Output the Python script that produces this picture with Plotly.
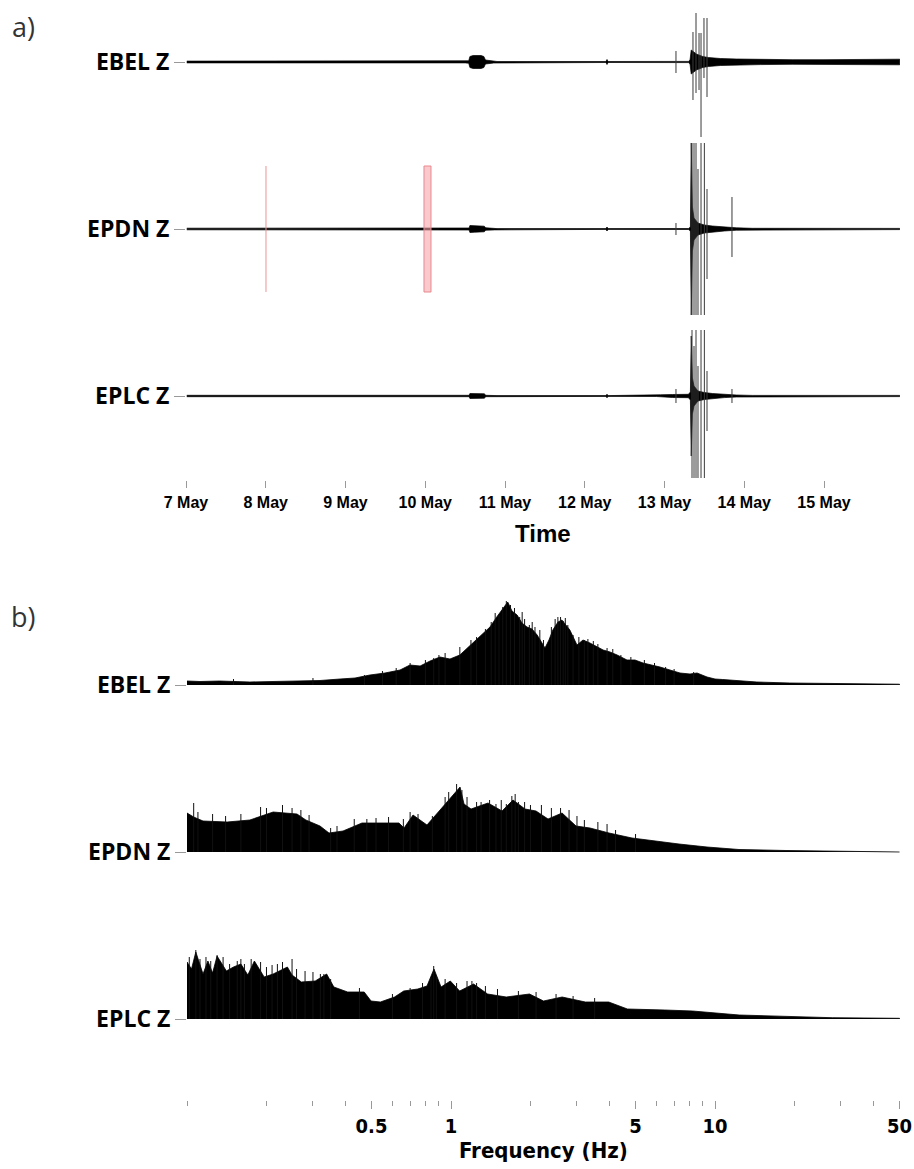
import pandas as pd
import plotly.graph_objects as go

W, H = 914, 1169

# ------------------------------------------------------------------ data
stations = ["EBEL Z", "EPDN Z", "EPLC Z"]

# Panel a: waveform envelopes, time in day-of-May 2019, half-amplitude (relative units)
ebel_env_t = [7.01, 10.50, 10.545, 10.56, 10.60, 10.70, 10.735, 10.755, 10.86, 10.90, 12.265, 12.279,
              12.293, 13.30, 13.32, 13.335, 13.40, 13.48, 13.55, 13.70, 13.90, 14.20, 14.60, 15.00,
              15.40, 15.70, 15.95]
ebel_env_a = [0.9, 0.9, 1.2, 5.5, 6.5, 6.5, 5.5, 2.0, 1.0, 0.5, 0.5, 2.5,
              0.5, 0.6, 2.0, 12.0, 8.0, 5.5, 4.5, 3.5, 3.0, 2.6, 2.3, 2.3,
              2.5, 2.6, 2.8]

epdn_env_t = [7.01, 9.95, 10.55, 10.56, 10.62, 10.74, 10.76, 10.87, 10.90, 12.265, 12.279, 12.293,
              13.30, 13.325, 13.335, 13.35, 13.37, 13.42, 13.50, 13.60, 13.75, 13.90, 14.10, 15.95]
epdn_env_a = [0.8, 0.9, 1.0, 3.5, 3.2, 2.8, 1.2, 0.9, 0.4, 0.4, 2.0, 0.4,
              0.5, 2.0, 86.0, 22.0, 11.0, 6.0, 4.0, 3.0, 2.0, 1.2, 0.7, 0.6]

eplc_env_t = [7.01, 10.55, 10.56, 10.74, 10.76, 10.90, 12.265, 12.279, 12.293, 12.90, 12.95, 13.10,
              13.30, 13.325, 13.335, 13.35, 13.37, 13.42, 13.50, 13.60, 13.75, 13.90, 14.10, 15.95]
eplc_env_a = [0.7, 0.7, 2.5, 2.2, 0.7, 0.4, 0.4, 1.8, 0.4, 0.5, 1.2, 1.5,
              1.7, 4.0, 60.0, 18.0, 10.0, 5.0, 3.5, 2.5, 1.6, 1.0, 0.6, 0.6]

# Panel a: individual large spikes (time, peak up, peak down)
ebel_spk_t = [13.144, 13.357, 13.395, 13.433, 13.458, 13.495, 13.533]
ebel_spk_up = [11, 30, 49, 29, 29, 44, 44]
ebel_spk_dn = [11, 38, 31, 28, 75, 16, 35]

epdn_spk_t = [13.144, 13.345, 13.370, 13.395, 13.420, 13.458, 13.500, 13.533, 13.846]
epdn_spk_up = [6, 86, 86, 86, 60, 86, 86, 40, 32]
epdn_spk_dn = [6, 86, 86, 86, 86, 86, 86, 50, 28]

eplc_spk_t = [13.144, 13.345, 13.370, 13.395, 13.420, 13.458, 13.500, 13.533, 13.846]
eplc_spk_up = [7, 66, 50, 66, 30, 66, 66, 25, 7]
eplc_spk_dn = [7, 82, 82, 82, 82, 82, 82, 35, 7]

# Highlighted windows on EPDN (day-of-May)
mark_line_day = 8.003
mark_box_days = (9.984, 10.072)

# Panel b: amplitude spectra (frequency in Hz, amplitude in relative units)
ebel_f = [0.100, 0.112, 0.133, 0.173, 0.225, 0.268, 0.319, 0.380, 0.433, 0.493, 0.562, 0.641, 0.699,
          0.764, 0.833, 0.908, 0.991, 1.08, 1.21, 1.32, 1.405, 1.49, 1.574, 1.64, 1.702, 1.78, 1.857,
          1.94, 2.027, 2.12, 2.27, 2.35, 2.43, 2.543, 2.63, 2.727, 2.82, 3.00, 3.162, 3.36, 3.573,
          3.77, 4.003, 4.26, 4.64, 4.977, 5.34, 5.772, 6.19, 6.752, 7.37, 8.04, 8.55, 9.33, 10.0,
          10.7, 12.4, 14.4, 19.2, 29.7, 43.3, 50.0]
ebel_h = [4, 3.5, 4, 3, 3.5, 4, 4.5, 6, 7, 10, 12, 15, 20,
          19, 24, 28, 26, 30, 42, 52, 58, 68, 76, 83, 74, 70, 62,
          58, 56, 50, 37, 45, 55, 63, 65, 60, 55, 40, 45, 42, 38,
          35, 33, 30, 25, 25, 22, 20, 18, 15, 12, 11, 12, 8, 6,
          5.5, 4.5, 3, 2, 1.7, 1.3, 0.8]
ebel_spk_f = [0.15, 0.30, 0.47, 0.55, 0.62, 0.70, 0.80, 0.86, 0.90, 0.95, 1.08, 1.19, 1.25, 1.35,
              1.42, 1.47, 1.52, 1.57, 1.62, 1.68, 1.74, 1.82, 1.86, 1.90, 1.98, 2.03, 2.08, 2.17,
              2.24, 2.40, 2.48, 2.54, 2.60, 2.66, 2.71, 2.77, 2.90, 3.05, 3.20, 3.30, 3.46, 3.60,
              3.90, 4.10, 4.40, 4.80, 5.40, 5.90, 6.50, 7.00, 8.30]
ebel_spk_h = [6, 7, 10, 14, 17, 22, 25, 27, 30, 32, 38, 45, 48, 56,
              63, 72, 70, 78, 84, 80, 77, 68, 73, 66, 60, 63, 58, 55,
              45, 58, 66, 68, 68, 64, 67, 60, 50, 48, 45, 46, 44, 41,
              37, 36, 30, 28, 25, 22, 18, 16, 13]

epdn_f = [0.100, 0.106, 0.115, 0.142, 0.173, 0.212, 0.261, 0.282, 0.319, 0.345, 0.390, 0.460, 0.520,
          0.635, 0.664, 0.718, 0.811, 0.901, 1.018, 1.082, 1.120, 1.191, 1.381, 1.561, 1.717, 1.907,
          2.099, 2.331, 2.634, 2.976, 3.362, 3.967, 4.849, 5.927, 7.305, 9.326, 12.33, 18.57, 34.2, 50.0]
epdn_h = [39, 35, 31, 30, 32, 40, 38, 32, 26, 19, 21, 29, 29,
          29, 24, 37, 27, 41, 58, 65, 48, 43, 49, 41, 52, 43,
          41, 33, 39, 26, 24, 19, 14, 11, 8, 5, 2.5, 1.5, 0.7, 0.3]
epdn_spk_f = [0.106, 0.11, 0.125, 0.14, 0.16, 0.19, 0.20, 0.23, 0.25, 0.27, 0.29, 0.35, 0.37, 0.43,
              0.48, 0.52, 0.58, 0.66, 0.70, 0.75, 0.85, 0.95, 0.98, 1.05, 1.10, 1.15, 1.25, 1.30,
              1.40, 1.48, 1.55, 1.62, 1.70, 1.75, 1.80, 1.90, 2.00, 2.20, 2.40, 2.60, 2.80, 3.00,
              3.20, 3.60, 3.90, 4.20, 5.00]
epdn_spk_h = [49, 40, 38, 36, 38, 45, 44, 47, 44, 42, 37, 24, 26, 33,
              33, 34, 35, 33, 40, 38, 36, 55, 60, 68, 62, 55, 50, 50,
              52, 48, 52, 48, 56, 58, 50, 50, 47, 47, 44, 44, 42, 36,
              32, 30, 28, 22, 18]

eplc_f = [0.100, 0.104, 0.108, 0.115, 0.120, 0.125, 0.130, 0.141, 0.150, 0.160, 0.170, 0.180, 0.196,
          0.212, 0.240, 0.250, 0.271, 0.306, 0.338, 0.360, 0.406, 0.469, 0.498, 0.540, 0.611, 0.662,
          0.748, 0.811, 0.862, 0.917, 0.994, 1.078, 1.218, 1.376, 1.619, 1.983, 2.241, 2.636, 3.229,
          3.957, 4.658, 6.450, 8.222, 12.35, 18.55, 27.8, 50.0]
eplc_h = [57, 50, 67, 45, 58, 46, 63, 48, 52, 55, 44, 58, 42,
          45, 52, 44, 37, 38, 45, 32, 27, 27, 18, 17, 22, 28,
          30, 33, 50, 32, 38, 28, 35, 25, 22, 25, 18, 22, 17,
          17, 10, 9, 8, 4, 2.3, 1.3, 0.7]
eplc_spk_f = [0.102, 0.108, 0.112, 0.118, 0.123, 0.13, 0.137, 0.145, 0.155, 0.16, 0.165, 0.175,
              0.19, 0.20, 0.21, 0.22, 0.23, 0.25, 0.26, 0.28, 0.30, 0.32, 0.33, 0.35, 0.45, 0.60,
              0.70, 0.78, 0.84, 0.86, 0.88, 0.95, 1.05, 1.15, 1.20, 1.25, 1.35, 1.50, 1.80, 2.10,
              2.50, 2.90, 3.50]
eplc_spk_h = [62, 69, 60, 62, 58, 64, 62, 55, 58, 60, 55, 60,
              57, 52, 54, 55, 57, 60, 50, 48, 47, 45, 45, 40, 31, 25,
              31, 36, 42, 53, 42, 40, 36, 38, 38, 36, 33, 30, 28, 27,
              25, 23, 21]

freq_major = [0.5, 1, 5, 10, 50]
freq_major_text = ["0.5", "1", "5", "10", "50"]
freq_minor = [0.1, 0.2, 0.3, 0.4, 0.6, 0.7, 0.8, 0.9, 2, 3, 4, 6, 7, 8, 9, 20, 30, 40]

# ------------------------------------------------------------------ helpers
STACK = 167                         # spacing between stacked traces
offsets = [0, -STACK, -2 * STACK]
BASE = pd.Timestamp("2019-05-01")


def to_dt(day):
    return str(BASE + pd.Timedelta(days=day - 1))


def py(px):
    return 1 - px / H


fig = go.Figure()

envs = [(ebel_env_t, ebel_env_a), (epdn_env_t, epdn_env_a), (eplc_env_t, eplc_env_a)]
spks = [(ebel_spk_t, ebel_spk_up, ebel_spk_dn), (epdn_spk_t, epdn_spk_up, epdn_spk_dn),
        (eplc_spk_t, eplc_spk_up, eplc_spk_dn)]

for off, (tt, aa), (st, su, sd) in zip(offsets, envs, spks):
    xs = [to_dt(t) for t in tt]
    up = [off + a for a in aa]
    dn = [off - a for a in aa]
    fig.add_trace(go.Scatter(x=xs + xs[::-1], y=up + dn[::-1], fill="toself", fillcolor="black",
                             mode="lines", line=dict(color="black", width=0.7),
                             xaxis="x", yaxis="y", hoverinfo="skip"))
    sx, sy = [], []
    for t, u, d in zip(st, su, sd):
        sx += [to_dt(t), to_dt(t), None]
        sy += [off + u, off - d, None]
    fig.add_trace(go.Scatter(x=sx, y=sy, mode="lines", line=dict(color="#3a3a3a", width=1),
                             xaxis="x", yaxis="y", hoverinfo="skip"))

specs = [(ebel_f, ebel_h, ebel_spk_f, ebel_spk_h), (epdn_f, epdn_h, epdn_spk_f, epdn_spk_h),
         (eplc_f, eplc_h, eplc_spk_f, eplc_spk_h)]
for off, (ff, hh, sf, sh) in zip(offsets, specs):
    x = [ff[0]] + list(ff) + [ff[-1]]
    y = [off] + [off + h for h in hh] + [off]
    fig.add_trace(go.Scatter(x=x, y=y, fill="toself", fillcolor="black", mode="lines",
                             line=dict(color="black", width=0.8), xaxis="x2", yaxis="y2",
                             hoverinfo="skip"))
    sx, sy = [], []
    for f, h in zip(sf, sh):
        sx += [f, f, None]
        sy += [off, off + h, None]
    fig.add_trace(go.Scatter(x=sx, y=sy, mode="lines", line=dict(color="#111", width=1),
                             xaxis="x2", yaxis="y2", hoverinfo="skip"))

# highlighted windows on EPDN
half = 63
fig.add_shape(type="line", xref="x", yref="y", x0=to_dt(mark_line_day), x1=to_dt(mark_line_day),
              y0=offsets[1] - half, y1=offsets[1] + half, line=dict(color="#ea9497", width=1),
              layer="above")
fig.add_shape(type="rect", xref="x", yref="y", x0=to_dt(mark_box_days[0]), x1=to_dt(mark_box_days[1]),
              y0=offsets[1] - half, y1=offsets[1] + half, fillcolor="rgba(247,165,170,0.6)",
              line=dict(color="#e8898f", width=1), layer="above")

label_font = dict(family="Open Sans, Noto Sans, sans-serif", size=23, color="black", weight="bold")
tick_common = dict(showgrid=False, zeroline=False, showline=False, ticks="outside",
                   tickcolor="#999", tickwidth=1, automargin=False)

fig.update_layout(
    width=W, height=H, margin=dict(l=0, r=0, t=0, b=0, autoexpand=False),
    paper_bgcolor="white", plot_bgcolor="white", showlegend=False,
    xaxis=dict(domain=[186 / W, 900 / W], anchor="y", type="date",
               range=[to_dt(7.0), to_dt(15.953)], tickmode="linear", tick0=to_dt(7.0),
               dtick=86400000, tickformat="%-d %b", ticklen=7, ticklabelstandoff=1,
               tickfont=dict(family="Liberation Sans Narrow, Arial Narrow, Liberation Sans, sans-serif",
                             size=16, color="black", weight="bold"),
               **tick_common),
    yaxis=dict(domain=[py(480), py(10)], anchor="x", range=[-418, 52],
               tickmode="array", tickvals=offsets, ticktext=stations, ticklen=11,
               tickfont=label_font, **tick_common),
    xaxis2=dict(domain=[187 / W, 900 / W], anchor="y2", type="log", range=[-1, 1.7007],
                tickmode="array", tickvals=freq_major, ticktext=freq_major_text, ticklen=8,
                ticklabelstandoff=0,
                tickfont=dict(family="DejaVu Sans Condensed, Open Sans, sans-serif", size=20,
                              color="black", weight="bold"),
                minor=dict(tickmode="array", tickvals=freq_minor, ticks="outside", ticklen=5,
                           tickcolor="#999", tickwidth=1),
                **tick_common),
    yaxis2=dict(domain=[py(1100), py(592)], anchor="x2", range=[-415, 93],
                tickmode="array", tickvals=offsets, ticktext=stations, ticklen=11,
                tickfont=label_font, **tick_common),
)

fig.add_annotation(text="a)", x=23 / W, y=py(27), xref="paper", yref="paper", showarrow=False,
                   font=dict(family="Open Sans, sans-serif", size=27, color="#333"),
                   xanchor="center", yanchor="middle")
fig.add_annotation(text="b)", x=23 / W, y=py(616), xref="paper", yref="paper", showarrow=False,
                   font=dict(family="Open Sans, sans-serif", size=27, color="#333"),
                   xanchor="center", yanchor="middle")
fig.add_annotation(text="Time", x=543 / W, y=py(533), xref="paper", yref="paper", showarrow=False,
                   font=dict(family="Liberation Sans Narrow, Arial Narrow, Liberation Sans, sans-serif",
                             size=24, color="black", weight="bold"),
                   xanchor="center", yanchor="middle")
fig.add_annotation(text="Frequency (Hz)", x=543 / W, y=py(1150), xref="paper", yref="paper",
                   showarrow=False,
                   font=dict(family="DejaVu Sans Condensed, Open Sans, sans-serif", size=22,
                             color="black", weight="bold"),
                   xanchor="center", yanchor="middle")

fig.write_html("out.html")
